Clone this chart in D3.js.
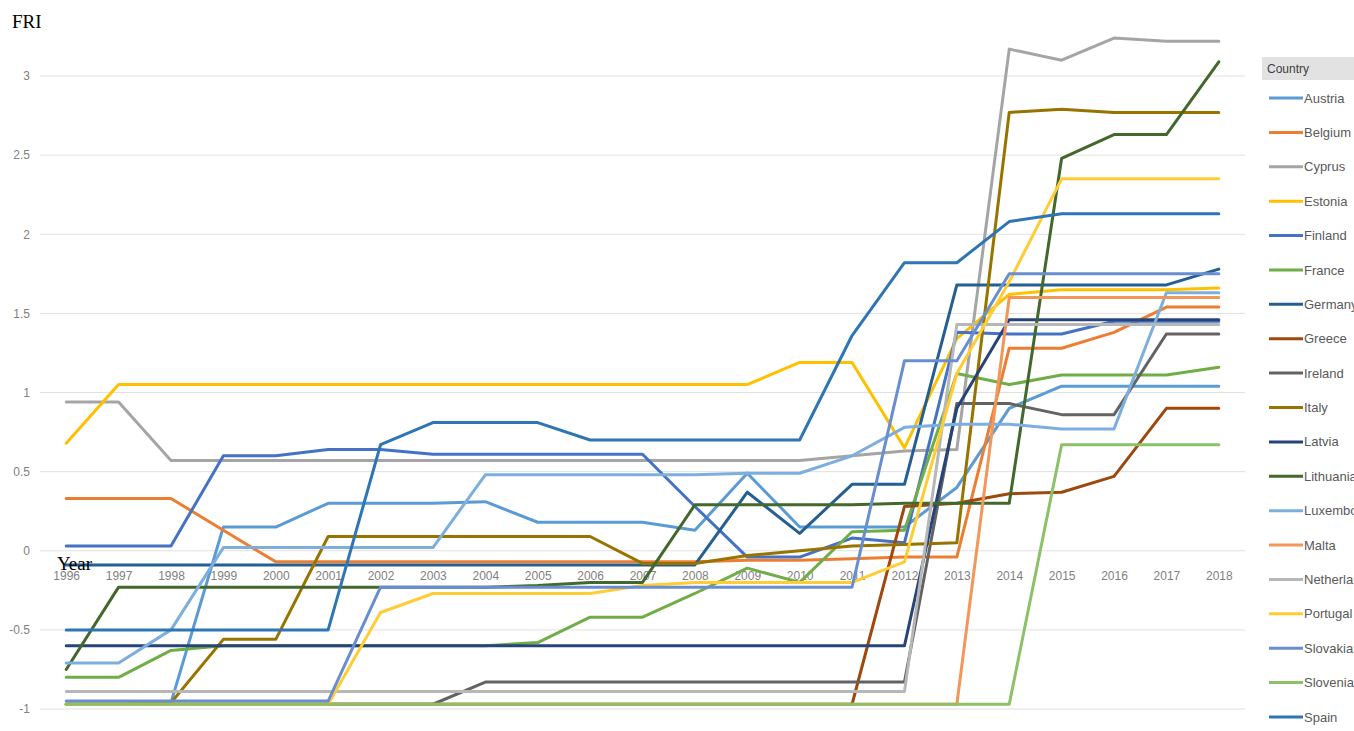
<!DOCTYPE html>
<html>
<head>
<meta charset="utf-8">
<script src="https://cdn.jsdelivr.net/npm/d3@7"></script>
<style>
  html, body { margin: 0; padding: 0; background: #ffffff; }
  svg { display: block; }
</style>
</head>
<body>
<svg id="chart" width="1354" height="731"></svg>
<script>
// FRI by country, 1996-2018
const years = ["1996","1997","1998","1999","2000","2001","2002","2003","2004","2005","2006","2007","2008","2009","2010","2011","2012","2013","2014","2015","2016","2017","2018"];
const yTicks = [-1, -0.5, 0, 0.5, 1, 1.5, 2, 2.5, 3];

const countries = ["Austria","Belgium","Cyprus","Estonia","Finland","France","Germany","Greece","Ireland","Italy","Latvia","Lithuania","Luxembourg","Malta","Netherlands","Portugal","Slovakia","Slovenia","Spain"];
const colors = ["#5B9BD5","#ED7D31","#A5A5A5","#FFC000","#4472C4","#70AD47","#255E91","#9E480E","#636363","#997300","#264478","#43682B","#7CAFDD","#F1975A","#B7B7B7","#FFCD33","#698ED0","#8CC168","#2E75B6"];

const austria     = [-0.97,-0.97,-0.96,0.15,0.15,0.30,0.30,0.30,0.31,0.18,0.18,0.18,0.13,0.49,0.15,0.15,0.15,0.40,0.90,1.04,1.04,1.04,1.04];
const belgium     = [0.33,0.33,0.33,0.13,-0.07,-0.07,-0.07,-0.07,-0.07,-0.07,-0.07,-0.07,-0.07,-0.06,-0.06,-0.05,-0.04,-0.04,1.28,1.28,1.38,1.54,1.54];
const cyprus      = [0.94,0.94,0.57,0.57,0.57,0.57,0.57,0.57,0.57,0.57,0.57,0.57,0.57,0.57,0.57,0.60,0.63,0.64,3.17,3.10,3.24,3.22,3.22];
const estonia     = [0.68,1.05,1.05,1.05,1.05,1.05,1.05,1.05,1.05,1.05,1.05,1.05,1.05,1.05,1.19,1.19,0.65,1.34,1.62,1.65,1.65,1.65,1.66];
const finland     = [0.03,0.03,0.03,0.60,0.60,0.64,0.64,0.61,0.61,0.61,0.61,0.61,0.28,-0.04,-0.04,0.08,0.05,1.38,1.37,1.37,1.45,1.45,1.45];
const france      = [-0.80,-0.80,-0.63,-0.60,-0.60,-0.60,-0.60,-0.60,-0.60,-0.58,-0.42,-0.42,-0.27,-0.11,-0.20,0.12,0.13,1.12,1.05,1.11,1.11,1.11,1.16];
const germany     = [-0.09,-0.09,-0.09,-0.09,-0.09,-0.09,-0.09,-0.09,-0.09,-0.09,-0.09,-0.09,-0.09,0.37,0.11,0.42,0.42,1.68,1.68,1.68,1.68,1.68,1.78];
const greece      = [-0.97,-0.97,-0.97,-0.97,-0.97,-0.97,-0.97,-0.97,-0.97,-0.97,-0.97,-0.97,-0.97,-0.97,-0.97,-0.97,0.28,0.30,0.36,0.37,0.47,0.90,0.90];
const ireland     = [-0.97,-0.97,-0.97,-0.97,-0.97,-0.97,-0.97,-0.97,-0.83,-0.83,-0.83,-0.83,-0.83,-0.83,-0.83,-0.83,-0.83,0.93,0.93,0.86,0.86,1.37,1.37];
const italy       = [-0.97,-0.97,-0.96,-0.56,-0.56,0.09,0.09,0.09,0.09,0.09,0.09,-0.08,-0.08,-0.03,0.00,0.03,0.04,0.05,2.77,2.79,2.77,2.77,2.77];
const latvia      = [-0.60,-0.60,-0.60,-0.60,-0.60,-0.60,-0.60,-0.60,-0.60,-0.60,-0.60,-0.60,-0.60,-0.60,-0.60,-0.60,-0.60,0.90,1.46,1.46,1.46,1.46,1.46];
const lithuania   = [-0.75,-0.23,-0.23,-0.23,-0.23,-0.23,-0.23,-0.23,-0.23,-0.22,-0.20,-0.20,0.29,0.29,0.29,0.29,0.30,0.30,0.30,2.48,2.63,2.63,3.09];
const luxembourg  = [-0.71,-0.71,-0.50,0.02,0.02,0.02,0.02,0.02,0.48,0.48,0.48,0.48,0.48,0.49,0.49,0.60,0.78,0.80,0.80,0.77,0.77,1.63,1.63];
const malta       = [-0.97,-0.97,-0.97,-0.97,-0.97,-0.97,-0.97,-0.97,-0.97,-0.97,-0.97,-0.97,-0.97,-0.97,-0.97,-0.97,-0.97,-0.97,1.60,1.60,1.60,1.60,1.60];
const netherlands = [-0.89,-0.89,-0.89,-0.89,-0.89,-0.89,-0.89,-0.89,-0.89,-0.89,-0.89,-0.89,-0.89,-0.89,-0.89,-0.89,-0.89,1.43,1.43,1.43,1.43,1.43,1.43];
const portugal    = [-0.97,-0.97,-0.97,-0.97,-0.97,-0.97,-0.39,-0.27,-0.27,-0.27,-0.27,-0.22,-0.20,-0.20,-0.20,-0.20,-0.07,1.12,1.70,2.35,2.35,2.35,2.35];
const slovakia    = [-0.95,-0.95,-0.95,-0.95,-0.95,-0.95,-0.23,-0.23,-0.23,-0.23,-0.23,-0.23,-0.23,-0.23,-0.23,-0.23,1.20,1.20,1.75,1.75,1.75,1.75,1.75];
const slovenia    = [-0.97,-0.97,-0.97,-0.97,-0.97,-0.97,-0.97,-0.97,-0.97,-0.97,-0.97,-0.97,-0.97,-0.97,-0.97,-0.97,-0.97,-0.97,-0.97,0.67,0.67,0.67,0.67];
const spain       = [-0.50,-0.50,-0.50,-0.50,-0.50,-0.50,0.67,0.81,0.81,0.81,0.70,0.70,0.70,0.70,0.70,1.36,1.82,1.82,2.08,2.13,2.13,2.13,2.13];

const seriesValues = [austria, belgium, cyprus, estonia, finland, france, germany, greece, ireland, italy, latvia, lithuania, luxembourg, malta, netherlands, portugal, slovakia, slovenia, spain];

const series = countries.map((name, i) => ({
  name,
  color: colors[i],
  points: years.map((yr, j) => ({ year: yr, value: seriesValues[i][j] }))
}));

const svg = d3.select("#chart");
const plot = { left: 40, right: 1245, top: 76, bottom: 709 };

const x = d3.scalePoint().domain(years).range([plot.left, plot.right]).padding(0.5);
const y = d3.scaleLinear().domain([-1, 3]).range([plot.bottom, plot.top]);

const labelFont = "'Liberation Sans Narrow', 'Liberation Sans', Arial, sans-serif";

// horizontal gridlines
svg.append("g")
  .selectAll("line")
  .data(yTicks)
  .join("line")
  .attr("x1", plot.left)
  .attr("x2", plot.right)
  .attr("y1", d => y(d))
  .attr("y2", d => y(d))
  .attr("stroke", "#e0e0e0")
  .attr("stroke-width", 1);

// value axis labels
const yAxis = svg.append("g")
  .attr("transform", "translate(30,0)")
  .call(d3.axisLeft(y).tickValues(yTicks).tickSize(0).tickPadding(0).tickFormat(d => String(d)));
yAxis.select(".domain").remove();
yAxis.selectAll("text")
  .attr("fill", "#7f7f7f")
  .style("font-family", labelFont)
  .style("font-size", "12px");

// category axis labels, sitting under the zero line
const xAxis = svg.append("g")
  .attr("transform", `translate(0,${y(0)})`)
  .call(d3.axisBottom(x).tickSize(0).tickPadding(21));
xAxis.select(".domain").remove();
xAxis.selectAll("text")
  .attr("fill", "#7f7f7f")
  .style("font-family", labelFont)
  .style("font-size", "12px");

// series lines
const line = d3.line()
  .x(d => x(d.year))
  .y(d => y(d.value));

svg.append("g")
  .selectAll("path")
  .data(series)
  .join("path")
  .attr("d", d => line(d.points))
  .attr("fill", "none")
  .attr("stroke", d => d.color)
  .attr("stroke-width", 3)
  .attr("stroke-linejoin", "round")
  .attr("stroke-linecap", "round");

// axis titles
svg.append("text")
  .attr("x", 12)
  .attr("y", 28)
  .attr("fill", "#000")
  .style("font-family", "'Liberation Serif', 'Times New Roman', serif")
  .style("font-size", "19px")
  .text("FRI");

svg.append("text")
  .attr("x", 57)
  .attr("y", 570)
  .attr("fill", "#000")
  .style("font-family", "'Liberation Serif', 'Times New Roman', serif")
  .style("font-size", "19px")
  .text("Year");

// legend
const legend = svg.append("g").attr("transform", "translate(1262,0)");
legend.append("rect")
  .attr("x", 0).attr("y", 57)
  .attr("width", 100).attr("height", 23)
  .attr("fill", "#e2e2e2");
legend.append("text")
  .attr("x", 5).attr("y", 73)
  .attr("fill", "#404040")
  .style("font-family", labelFont)
  .style("font-size", "12px")
  .text("Country");

const legendY = d3.scalePoint().domain(countries).range([98, 717]);
const item = legend.selectAll("g.item")
  .data(series)
  .join("g")
  .attr("class", "item")
  .attr("transform", d => `translate(0,${legendY(d.name)})`);
item.append("line")
  .attr("x1", 7).attr("x2", 41)
  .attr("y1", 0).attr("y2", 0)
  .attr("stroke", d => d.color)
  .attr("stroke-width", 3);
item.append("text")
  .attr("x", 42).attr("y", 0)
  .attr("dy", "0.35em")
  .attr("fill", "#595959")
  .style("font-family", labelFont)
  .style("font-size", "13px")
  .text(d => d.name);
</script>
</body>
</html>
